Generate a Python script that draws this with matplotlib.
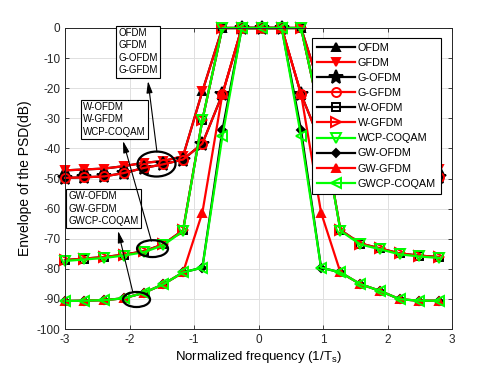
import matplotlib
matplotlib.use("Agg")
import matplotlib.pyplot as plt
from matplotlib.patches import Ellipse

plt.rcParams['font.family'] = ['Liberation Sans', 'DejaVu Sans']
plt.rcParams['axes.unicode_minus'] = False

# normalized frequency points
freq = [-3.0, -2.7, -2.39, -2.09, -1.78, -1.48, -1.17, -0.87, -0.56, -0.26,
        0.05, 0.36, 0.66, 0.97, 1.27, 1.58, 1.88, 2.19, 2.49, 2.8]

# PSD envelopes (dB)
ofdm   = [-47.3, -47.0, -46.7, -45.9, -44.8, -44.2, -42.6, -21.0, 0, 0,
          0, 0, 0, -21.0, -42.6, -44.2, -44.8, -45.9, -46.7, -47.0]
gfdm   = [-47.3, -47.0, -46.7, -45.9, -44.8, -44.2, -42.6, -21.0, 0, 0,
          0, 0, 0, -21.0, -42.6, -44.2, -44.8, -45.9, -46.7, -47.0]
g_ofdm = [-49.8, -49.6, -49.3, -48.2, -46.5, -45.3, -43.7, -38.4, -22.0, 0,
          0, 0, -22.0, -38.4, -43.7, -45.3, -46.5, -48.2, -49.3, -49.6]
g_gfdm = [-49.8, -49.6, -49.3, -48.2, -46.5, -45.3, -43.7, -38.4, -22.0, 0,
          0, 0, -22.0, -38.4, -43.7, -45.3, -46.5, -48.2, -49.3, -49.6]
w_ofdm = [-77.1, -76.6, -76.1, -75.3, -74.2, -71.9, -67.2, -30.5, 0, 0,
          0, 0, 0, -30.5, -67.1, -71.6, -73.2, -74.9, -75.6, -76.1]
w_gfdm = [-77.1, -76.6, -76.1, -75.3, -74.2, -71.9, -67.2, -30.5, 0, 0,
          0, 0, 0, -30.5, -67.1, -71.6, -73.2, -74.9, -75.6, -76.1]
wcp_coqam = [-77.4, -76.9, -76.4, -75.6, -74.5, -72.2, -67.5, -30.5, 0, 0,
             0, 0, 0, -30.5, -67.4, -71.9, -73.5, -75.2, -75.9, -76.4]
gw_ofdm = [-90.7, -90.6, -90.4, -89.8, -88.0, -85.2, -81.2, -79.6, -34.0, 0,
           0, 0, -34.0, -79.6, -81.2, -85.1, -87.3, -90.1, -90.6, -90.6]
gw_gfdm = [-90.7, -90.6, -90.4, -89.8, -88.0, -85.2, -81.2, -61.3, -22.0, 0,
           0, 0, -22.0, -61.3, -81.2, -85.1, -87.3, -90.1, -90.6, -90.6]
gwcp_coqam = [-90.7, -90.6, -90.4, -89.8, -88.0, -85.2, -81.2, -79.6, -36.0, 0,
              0, 0, -36.0, -79.6, -81.2, -85.1, -87.3, -90.1, -90.6, -90.6]

labels = ['OFDM', 'GFDM', 'G-OFDM', 'G-GFDM', 'W-OFDM', 'W-GFDM',
          'WCP-COQAM', 'GW-OFDM', 'GW-GFDM', 'GWCP-COQAM']
series = [ofdm, gfdm, g_ofdm, g_gfdm, w_ofdm, w_gfdm, wcp_coqam,
          gw_ofdm, gw_gfdm, gwcp_coqam]

G = '#00ff00'
styles = [
    dict(color='k', marker='^', mfc='k', ms=6),
    dict(color='r', marker='v', mfc='r', ms=6),
    dict(color='k', marker='*', mfc='k', ms=10),
    dict(color='r', marker='o', mfc='none', ms=6.5),
    dict(color='k', marker='s', mfc='none', ms=5.5),
    dict(color='r', marker='>', mfc='none', ms=6.5),
    dict(color=G, marker='v', mfc='none', ms=7),
    dict(color='k', marker='D', mfc='k', ms=4.5),
    dict(color='r', marker='^', mfc='r', ms=6),
    dict(color=G, marker='<', mfc='none', ms=7),
]

fig = plt.figure(figsize=(4.98, 3.74), dpi=100)
ax = fig.add_axes([65/498, 1-329/374, 387/498, 301/374])

for y, lab, st in zip(series, labels, styles):
    ax.plot(freq, y, label=lab, lw=1.6, mew=1.4, clip_on=False, **st)

ax.set_xlim(-3, 3)
ax.set_ylim(-100, 0)
ax.set_xticks([-3, -2, -1, 0, 1, 2, 3])
ax.set_yticks(list(range(-100, 1, 10)))
ax.grid(True, color='#e0e0e0', lw=0.7)
ax.set_axisbelow(True)
ax.tick_params(direction='in', top=True, right=True, length=3, width=0.6,
               labelsize=8.5, colors='#262626')
for sp in ax.spines.values():
    sp.set_linewidth(0.7)
    sp.set_color('#262626')

ax.set_xlabel(r'Normalized frequency (1/T$_\mathregular{s}$)', fontsize=9.5, labelpad=2)
ax.set_ylabel('Envelope of the PSD(dB)', fontsize=10, labelpad=3)

leg = ax.legend(loc='upper left', bbox_to_anchor=(0.638, 0.967), fontsize=7.8,
                frameon=True, fancybox=False, edgecolor='k', framealpha=1,
                handlelength=3.5, labelspacing=0.47, borderpad=0.45,
                handletextpad=0.3, borderaxespad=0, numpoints=1)
leg.get_frame().set_linewidth(0.8)
leg.set_zorder(10)

box = dict(boxstyle='square,pad=0.25', fc='w', ec='k', lw=0.8)
ax.text(-2.178, 0.0, 'OFDM\nGFDM\nG-OFDM\nG-GFDM', fontsize=7, va='top', ha='left',
        linespacing=1.3, bbox=box, zorder=6, clip_on=False)
ax.text(-2.721, -24.6, 'W-OFDM\nW-GFDM\nWCP-COQAM', fontsize=7, va='top', ha='left',
        linespacing=1.3, bbox=box, zorder=6)
ax.text(-2.953, -54.2, 'GW-OFDM\nGW-GFDM\nGWCP-COQAM', fontsize=7, va='top', ha='left',
        linespacing=1.3, bbox=box, zorder=6)

ap = dict(arrowstyle='-|>,head_length=0.7,head_width=0.18', color='k', lw=0.8,
          shrinkA=0, shrinkB=0)
ax.annotate('', xy=(-1.713, -17.6), xytext=(-1.574, -41.2), arrowprops=ap, zorder=7)
ax.annotate('', xy=(-2.101, -37.5), xytext=(-1.66, -70.8), arrowprops=ap, zorder=7)
ax.annotate('', xy=(-2.178, -67.4), xytext=(-1.946, -88.0), arrowprops=ap, zorder=7)

for (cx, cy, w, h) in [(-1.581, -45.2, 0.589, 8.3), (-1.643, -73.3, 0.48, 5.6),
                       (-1.891, -90.2, 0.419, 5.0)]:
    ax.add_patch(Ellipse((cx, cy), w, h, fill=False, ec='k', lw=1.6, zorder=8))

fig.savefig('out.png', dpi=100)
